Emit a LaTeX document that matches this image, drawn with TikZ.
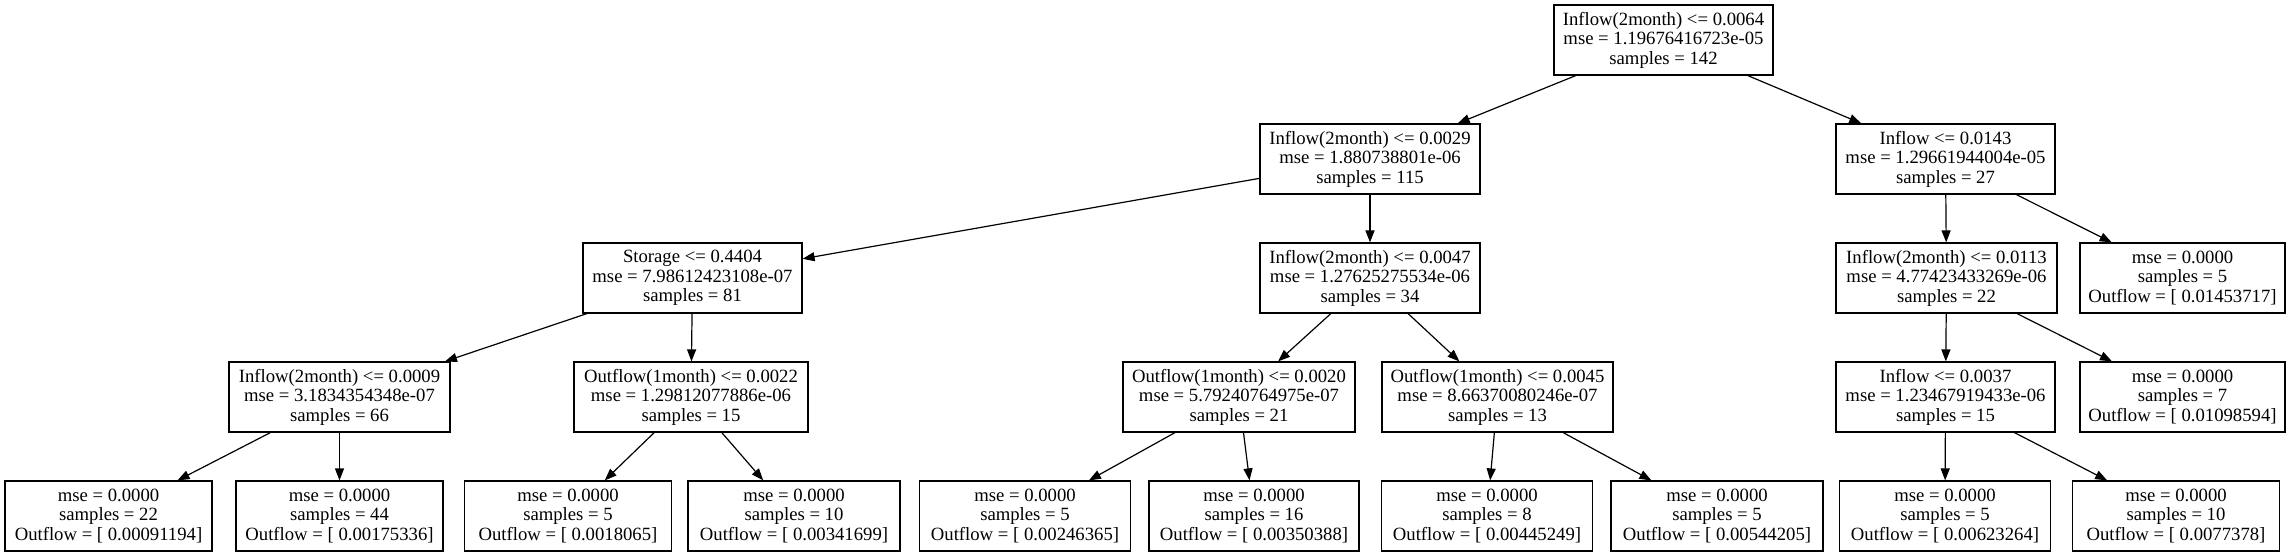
\documentclass[tikz,border=0pt]{standalone}
\usepackage{fontspec}
\setmainfont{Liberation Serif}
\usetikzlibrary{arrows.meta}
\begin{document}
\begin{tikzpicture}[x=1pt,y=-1pt,
  tnode/.style={draw=black,line width=1.2pt,fill=white,align=center,
    minimum height=70pt,inner xsep=8pt,inner ysep=2pt,
    font=\fontsize{18.7}{19.5}\selectfont},
  edge/.style={draw=black,line width=1.2pt,-{Triangle[length=12pt,width=9pt]}}]
\fill[white] (0,0) rectangle (2292,556);
\useasboundingbox (0,0) rectangle (2292,556);
% level 0
\node[tnode,minimum width=219pt] (n0) at (1663.5,40) {Inflow(2month) <= 0.0064\\mse = 1.19676416723e-05\\samples = 142};
% level 1
\node[tnode,minimum width=220pt] (n1) at (1370,159) {Inflow(2month) <= 0.0029\\mse = 1.880738801e-06\\samples = 115};
\node[tnode,minimum width=219pt] (n2) at (1945.5,159) {Inflow <= 0.0143\\mse = 1.29661944004e-05\\samples = 27};
% level 2
\node[tnode,minimum width=219pt] (n3) at (692.5,278) {Storage <= 0.4404\\mse = 7.98612423108e-07\\samples = 81};
\node[tnode,minimum width=220pt] (n4) at (1370,278) {Inflow(2month) <= 0.0047\\mse = 1.27625275534e-06\\samples = 34};
\node[tnode,minimum width=221pt] (n5) at (1946.5,278) {Inflow(2month) <= 0.0113\\mse = 4.77423433269e-06\\samples = 22};
\node[tnode,minimum width=205pt] (n6) at (2182.5,278) {mse = 0.0000\\samples = 5\\Outflow = [ 0.01453717]};
% level 3
\node[tnode,minimum width=221pt] (n7) at (339.5,397) {Inflow(2month) <= 0.0009\\mse = 3.1834354348e-07\\samples = 66};
\node[tnode,minimum width=234pt] (n8) at (691,397) {Outflow(1month) <= 0.0022\\mse = 1.29812077886e-06\\samples = 15};
\node[tnode,minimum width=232pt] (n9) at (1239,397) {Outflow(1month) <= 0.0020\\mse = 5.79240764975e-07\\samples = 21};
\node[tnode,minimum width=231pt] (n10) at (1497.5,397) {Outflow(1month) <= 0.0045\\mse = 8.66370080246e-07\\samples = 13};
\node[tnode,minimum width=219pt] (n11) at (1945.5,397) {Inflow <= 0.0037\\mse = 1.23467919433e-06\\samples = 15};
\node[tnode,minimum width=205pt] (n12) at (2182.5,397) {mse = 0.0000\\samples = 7\\Outflow = [ 0.01098594]};
% level 4
\node[tnode,minimum width=207pt] (n13) at (108.5,516) {mse = 0.0000\\samples = 22\\Outflow = [ 0.00091194]};
\node[tnode,minimum width=207pt] (n14) at (339.5,516) {mse = 0.0000\\samples = 44\\Outflow = [ 0.00175336]};
\node[tnode,minimum width=207pt] (n15) at (568,516) {mse = 0.0000\\samples = 5\\Outflow = [ 0.0018065]};
\node[tnode,minimum width=212pt] (n16) at (794,516) {mse = 0.0000\\samples = 10\\Outflow = [ 0.00341699]};
\node[tnode,minimum width=211pt] (n17) at (1025,516) {mse = 0.0000\\samples = 5\\Outflow = [ 0.00246365]};
\node[tnode,minimum width=210pt] (n18) at (1254,516) {mse = 0.0000\\samples = 16\\Outflow = [ 0.00350388]};
\node[tnode,minimum width=211pt] (n19) at (1487,516) {mse = 0.0000\\samples = 8\\Outflow = [ 0.00445249]};
\node[tnode,minimum width=212pt] (n20) at (1717,516) {mse = 0.0000\\samples = 5\\Outflow = [ 0.00544205]};
\node[tnode,minimum width=211pt] (n21) at (1945,516) {mse = 0.0000\\samples = 5\\Outflow = [ 0.00623264]};
\node[tnode,minimum width=207pt] (n22) at (2176,516) {mse = 0.0000\\samples = 10\\Outflow = [ 0.0077378]};
% edges
\foreach \a/\b in {n0/n1,n0/n2,n1/n3,n1/n4,n2/n5,n2/n6,n3/n7,n3/n8,n4/n9,n4/n10,n5/n11,n5/n12,n7/n13,n7/n14,n8/n15,n8/n16,n9/n17,n9/n18,n10/n19,n10/n20,n11/n21,n11/n22}
  \draw[edge] (\a) -- (\b);
\end{tikzpicture}
\end{document}
